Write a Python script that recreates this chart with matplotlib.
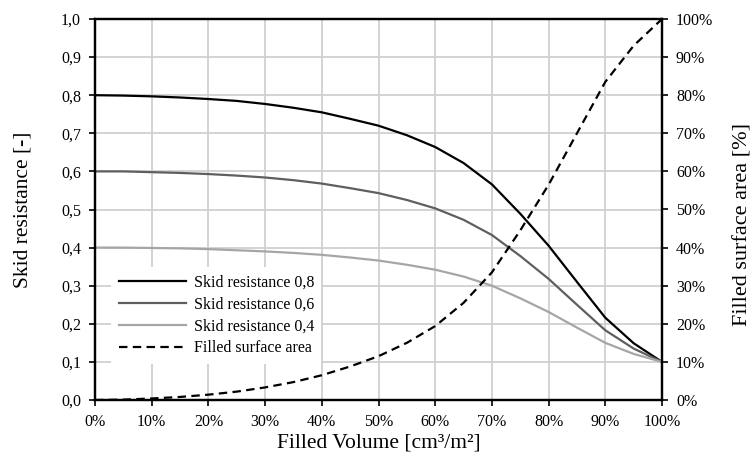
import matplotlib
matplotlib.use('Agg')
import matplotlib.pyplot as plt
from matplotlib.ticker import FuncFormatter

plt.rcParams['font.family'] = ['Liberation Serif', 'DejaVu Serif']

# filled volume [%]
volume = [0, 5, 10, 15, 20, 25, 30, 35, 40, 45, 50, 55, 60, 65, 70, 75, 80, 85, 90, 95, 100]

skid_08 = [0.800, 0.799, 0.797, 0.794, 0.790, 0.785, 0.777, 0.767, 0.755, 0.738, 0.720,
           0.695, 0.664, 0.622, 0.566, 0.489, 0.405, 0.310, 0.216, 0.149, 0.100]
skid_06 = [0.600, 0.600, 0.598, 0.596, 0.593, 0.589, 0.584, 0.577, 0.568, 0.556, 0.543,
           0.525, 0.503, 0.473, 0.433, 0.378, 0.318, 0.250, 0.183, 0.135, 0.100]
skid_04 = [0.400, 0.400, 0.399, 0.398, 0.396, 0.393, 0.390, 0.386, 0.381, 0.374, 0.366,
           0.355, 0.342, 0.324, 0.300, 0.267, 0.231, 0.190, 0.150, 0.121, 0.100]
# filled surface area (fraction)
surface = [0.000, 0.001, 0.004, 0.008, 0.014, 0.022, 0.033, 0.047, 0.065, 0.088, 0.115,
           0.150, 0.194, 0.255, 0.335, 0.445, 0.565, 0.700, 0.835, 0.930, 1.000]

labels = ['Skid resistance 0,8', 'Skid resistance 0,6', 'Skid resistance 0,4', 'Filled surface area']

fig = plt.figure(figsize=(7.55, 4.54), dpi=100)
ax = fig.add_axes([95/755, 54/454, 567/755, 381/454])
ax2 = ax.twinx()

l1, = ax.plot(volume, skid_08, color='black', lw=1.6)
l2, = ax.plot(volume, skid_06, color='#5f5f5f', lw=1.6)
l3, = ax.plot(volume, skid_04, color='#a6a6a6', lw=1.6)
l4, = ax2.plot(volume, surface, color='black', lw=1.6, dashes=(3.8, 2.4))

ax.set_xlim(0, 100)
ax.set_ylim(0, 1)
ax2.set_ylim(0, 1)
ax.set_xticks(range(0, 101, 10))
ax.set_yticks([i / 10 for i in range(11)])
ax2.set_yticks([i / 10 for i in range(11)])
ax.xaxis.set_major_formatter(FuncFormatter(lambda v, p: '%d%%' % v))
ax.yaxis.set_major_formatter(FuncFormatter(lambda v, p: ('%.1f' % v).replace('.', ',')))
ax2.yaxis.set_major_formatter(FuncFormatter(lambda v, p: '%d%%' % round(v * 100)))

ax.grid(True, color='#d0d0d0', lw=1.3)
ax.set_axisbelow(True)

for a in (ax, ax2):
    for s in a.spines.values():
        s.set_linewidth(1.6)
        s.set_color('black')
    a.tick_params(direction='out', length=4, width=1.2, labelsize=11.5, colors='black')
ax.tick_params(axis='x', pad=6)
ax.tick_params(axis='y', pad=6)
ax2.tick_params(axis='y', pad=6)

# axis titles, centred where the reference has them
ax.set_ylabel('Skid resistance [-]', fontsize=15.5)
ax.yaxis.label.set_va('center')
ax.yaxis.set_label_coords(-0.127, 0.5)
ax.set_xlabel('Filled Volume [cm³/m²]', fontsize=15.5)
ax.xaxis.label.set_va('center')
ax.xaxis.set_label_coords(0.5, -0.113)
ax2.set_ylabel('Filled surface area [%]', fontsize=16)
ax2.yaxis.label.set_va('center')
ax2.yaxis.set_label_coords(1.143, 0.46)

leg = ax2.legend([l1, l2, l3, l4], labels, loc='upper left', bbox_to_anchor=(0.015, 0.37),
                 fontsize=11.5, handlelength=4.2, handletextpad=0.5, labelspacing=0.38,
                 frameon=True, fancybox=False, borderpad=0.45)
leg.get_frame().set_facecolor('white')
leg.get_frame().set_edgecolor('none')
leg.get_frame().set_alpha(1)

fig.savefig('out.png', dpi=100)
